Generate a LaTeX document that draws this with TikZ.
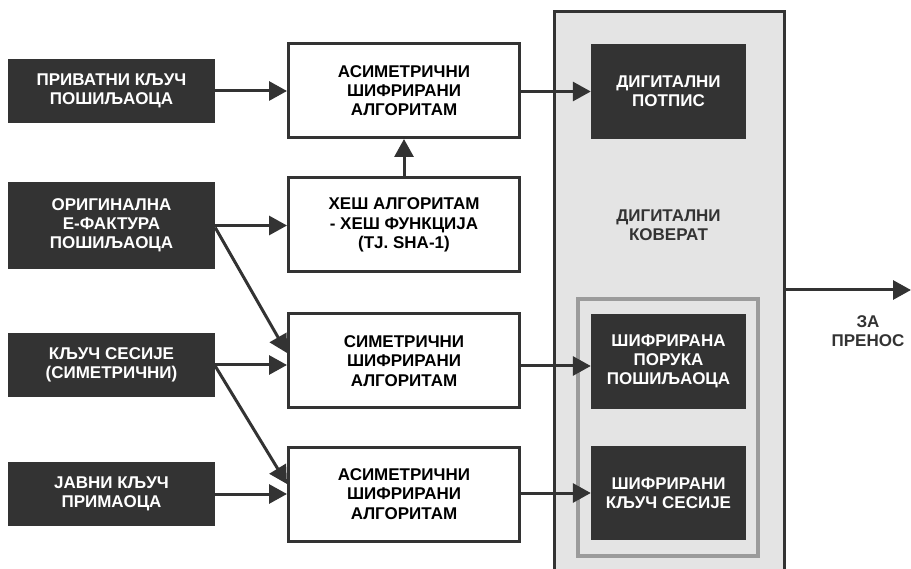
\documentclass[tikz,border=0pt]{standalone}
\usepackage{fontspec}
\setmainfont{Liberation Sans}
\usetikzlibrary{arrows.meta}
\definecolor{ink}{HTML}{333333}
\definecolor{envfill}{HTML}{E4E4E4}
\definecolor{framegray}{HTML}{9B9B9B}

\begin{document}
\begin{tikzpicture}[x=1pt,y=-1pt,
  every node/.style={font=\bfseries\fontsize{17}{19.2}\selectfont,align=center,inner sep=0pt},
  src/.style={fill=ink,text=white,minimum width=207pt},
  alg/.style={draw=ink,line width=3pt,fill=white,minimum width=231pt},
  inenv/.style={fill=ink,text=white,minimum width=155pt},
  arr/.style={draw=ink,line width=3pt,-{Triangle[length=18pt,width=19pt]}}]
\useasboundingbox (0,0) rectangle (911,569);
% envelope and inner frame
\node[draw=ink,fill=envfill,line width=3pt,minimum width=230pt,minimum height=580pt,anchor=north west] (env) at (552.5,10.5) {};
\node[draw=framegray,line width=4pt,minimum width=180pt,minimum height=257pt] (frm) at (668,427.5) {};
\node[text=ink] (envlbl) at (668.5,225) {ДИГИТАЛНИ\\КОВЕРАТ};
% inputs
\foreach \n/\y/\h/\t in {priv/91/64/{ПРИВАТНИ КЉУЧ\\ПОШИЉАОЦА},orig/225.5/87/{ОРИГИНАЛНА\\Е-ФАКТУРА\\ПОШИЉАОЦА},
  sess/365/64/{КЉУЧ СЕСИЈЕ\\(СИМЕТРИЧНИ)},pub/494/64/{ЈАВНИ КЉУЧ\\ПРИМАОЦА}}{
  \node[src,minimum height=\h pt] (\n) at (111.5,\y) {\t};}
% algorithms
\foreach \n/\y/\t in {asym1/90.5/{АСИМЕТРИЧНИ\\ШИФРИРАНИ\\АЛГОРИТАМ},hash/225/{ХЕШ АЛГОРИТАМ\\- ХЕШ ФУНКЦИЈА\\(TJ. SHA-1)},
  sym/361/{СИМЕТРИЧНИ\\ШИФРИРАНИ\\АЛГОРИТАМ},asym2/494/{АСИМЕТРИЧНИ\\ШИФРИРАНИ\\АЛГОРИТАМ}}{
  \node[alg,minimum height=94pt] (\n) at (404,\y) {\t};}
% contents of the envelope
\node[inenv,minimum height=95pt] (sig) at (668.5,91.5) {ДИГИТАЛНИ\\ПОТПИС};
\node[inenv,minimum height=95pt] (msg) at (668.5,361.5) {ШИФРИРАНА\\ПОРУКА\\ПОШИЉАОЦА};
\node[inenv,minimum height=94pt] (key) at (668.5,493) {ШИФРИРАНИ\\КЉУЧ СЕСИЈЕ};
% arrows
\draw[arr] (priv.east) -- (priv.east -| asym1.west);
\draw[arr] (hash.north) -- (asym1.south);
\draw[arr] (orig.east) -- (orig.east -| hash.west);
\draw[arr] ([yshift=-2pt]orig.east) -- ([yshift=8pt]sym.west);
\draw[arr] (sess.east) -- (sess.east -| sym.west);
\draw[arr] ([yshift=-1pt]sess.east) -- ([yshift=10pt]asym2.west);
\draw[arr] (pub.east) -- (pub.east -| asym2.west);
\draw[arr] (asym1.east |- sig.west) -- (sig.west);
\draw[arr] ([yshift=-5pt]sym.east) -- ([yshift=-5pt]sym.east -| msg.west);
\draw[arr] (asym2.east |- key.west) -- (key.west);
\coordinate (out) at (911,290);
\draw[arr] (out -| env.east) -- (out);
\node[text=ink] (outlbl) at (868,331) {ЗА\\ПРЕНОС};
\end{tikzpicture}
\end{document}
